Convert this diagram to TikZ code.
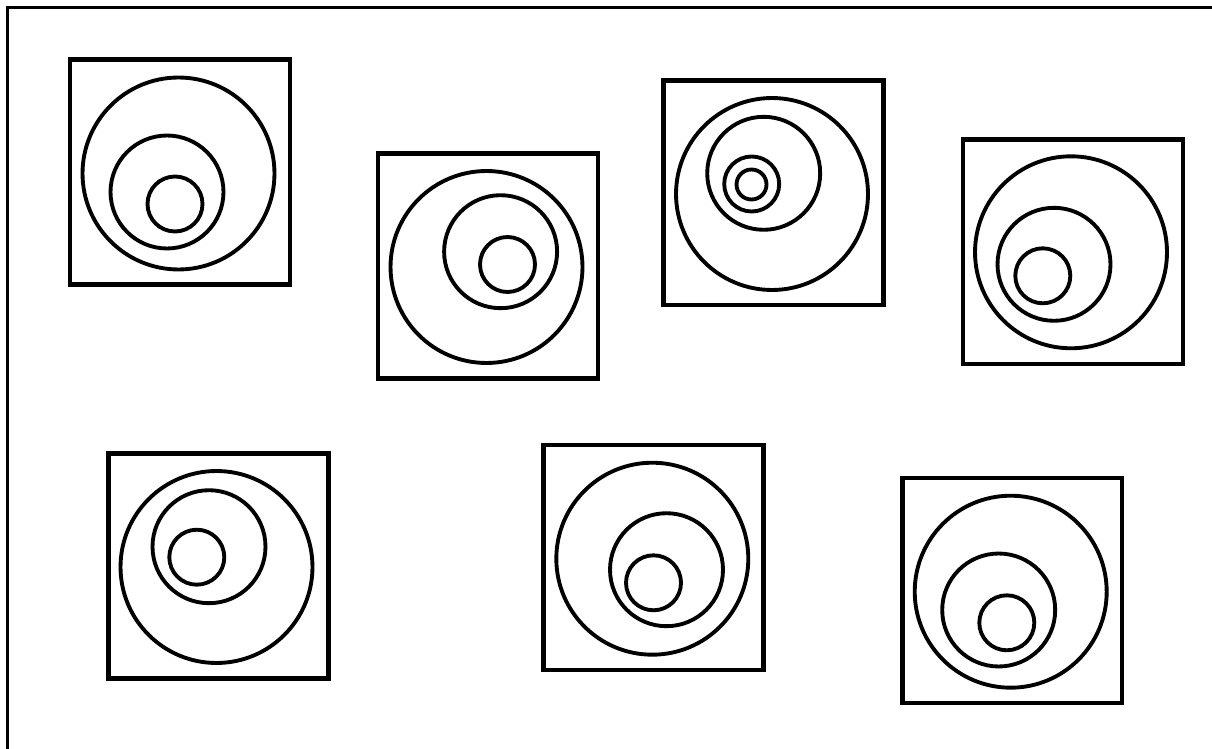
\documentclass[tikz,border=0pt]{standalone}
\usepackage{tikz}

\begin{document}
\begin{tikzpicture}[x=0.02cm,y=-0.02cm]
  \tikzstyle{frame}=[draw,line width=1.3pt]
  \tikzstyle{box}=[draw,line width=2.6pt,rectangle,inner sep=0pt,minimum width=4.4cm,minimum height=4.5cm]
  \tikzstyle{ringa}=[draw,line width=2.2pt,circle,inner sep=0pt,minimum size=3.84cm]
  \tikzstyle{ringb}=[draw,line width=2.2pt,circle,inner sep=0pt,minimum size=2.26cm]
  \tikzstyle{ringc}=[draw,line width=2.2pt,circle,inner sep=0pt,minimum size=1.1cm]
  \tikzstyle{ringd}=[draw,line width=2.2pt,circle,inner sep=0pt,minimum size=0.6cm]
  \clip (0,0) rectangle (1212,749);
  \draw[frame] (7.5,7.5) rectangle (1230,770);
  % top row
  \node[box] (box1) at (180,172) {};
  \node[ringa] (big1) at (178.5,173.5) {};
  \node[ringb] (mid1) at (167,192) {};
  \node[ringc] (small1) at (175,204) {};
  \node[box] (box2) at (488,266) {};
  \node[ringa] (big2) at (486.5,267) {};
  \node[ringb] (mid2) at (500.6,251.7) {};
  \node[ringc] (small2) at (507.5,264.5) {};
  \node[box] (box3) at (773.7,192.7) {};
  \node[ringa] (big3) at (772,194) {};
  \node[ringb] (mid3) at (763.7,173.3) {};
  \node[ringc] (small3) at (751.7,184) {};
  \node[ringd] (tiny3) at (751.5,184.5) {};
  \node[box] (box4) at (1073,251.7) {};
  \node[ringa] (big4) at (1071,252.3) {};
  \node[ringb] (mid4) at (1054,264.3) {};
  \node[ringc] (small4) at (1042.8,275.8) {};
  % bottom row
  \node[box] (box5) at (218.5,566.2) {};
  \node[ringa] (big5) at (216.5,567) {};
  \node[ringb] (mid5) at (209,546.7) {};
  \node[ringc] (small5) at (196.8,557.2) {};
  \node[box] (box6) at (653.5,557.5) {};
  \node[ringa] (big6) at (652.3,558.7) {};
  \node[ringb] (mid6) at (666.5,569.7) {};
  \node[ringc] (small6) at (653.5,582.8) {};
  \node[box] (box7) at (1012.2,590.5) {};
  \node[ringa] (big7) at (1010.7,591.7) {};
  \node[ringb] (mid7) at (998.7,610) {};
  \node[ringc] (small7) at (1006.8,622.8) {};
\end{tikzpicture}
\end{document}
